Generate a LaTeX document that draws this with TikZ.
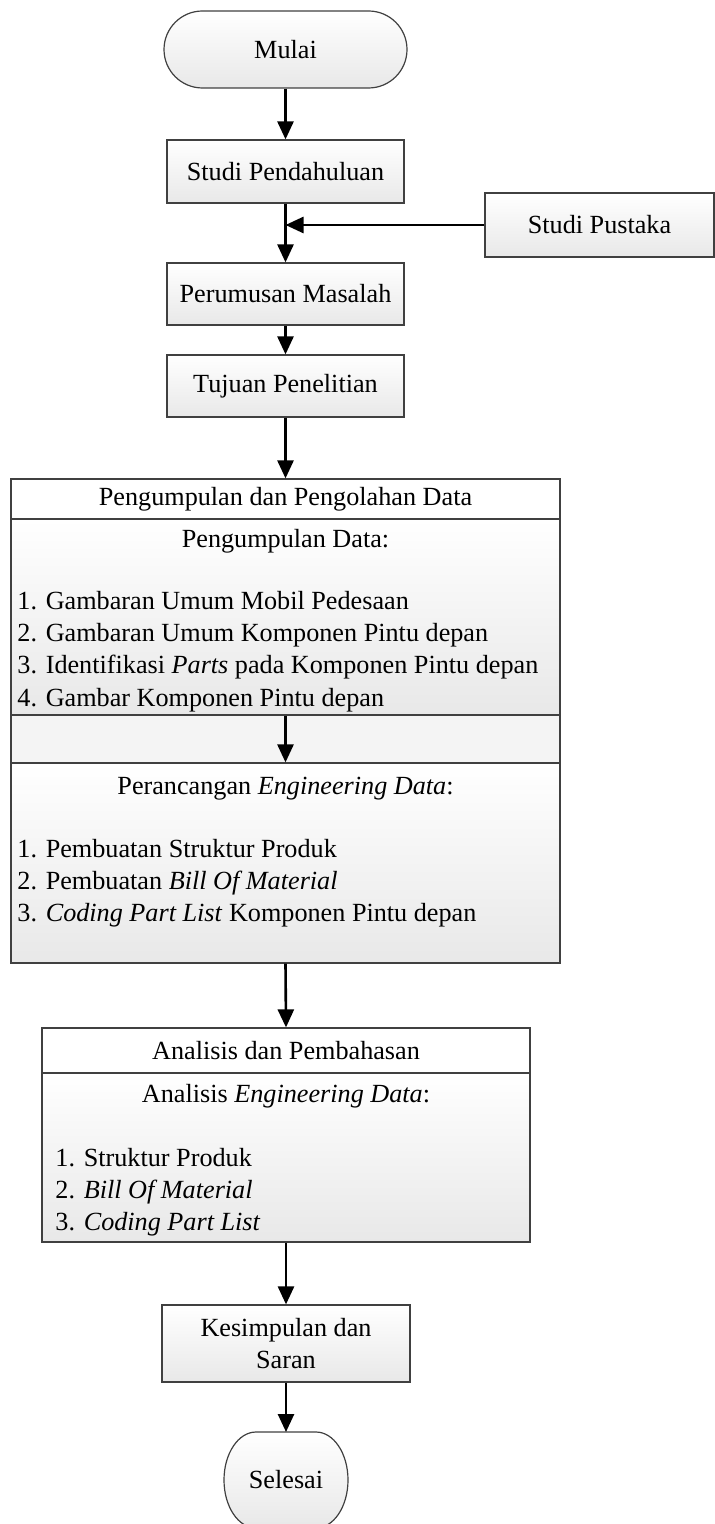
\documentclass[tikz,border=0pt]{standalone}
\usepackage{fontspec}
\setmainfont{Liberation Serif}
\usetikzlibrary{shapes.misc,arrows.meta}
\begin{document}
\begin{tikzpicture}[x=0.5pt,y=-0.5pt,
  txt/.style={font=\fontsize{13.1}{16.1}\selectfont, inner sep=0pt},
  box/.style={txt, draw=black!75, line width=0.6pt, top color=white, bottom color=gray!18, inner sep=0pt, align=center},
  whitebox/.style={txt, draw=black!75, line width=0.6pt, fill=white, inner sep=0pt},
  bandbox/.style={draw=black!75, line width=0.6pt, fill=gray!9, inner sep=0pt},
  arr/.style={line width=1.3pt, -{Triangle[length=9pt,width=8pt]}},
]
\useasboundingbox (0,0) rectangle (715,1524);

% terminals and simple boxes
\node[box, rounded rectangle, minimum width=121.5pt, minimum height=38.5pt] (mulai) at (285.5,49.5) {Mulai};
\node[box, minimum width=118.5pt, minimum height=31.5pt] (studi) at (285.5,171.5) {Studi Pendahuluan};
\node[box, minimum width=114.5pt, minimum height=32pt] (pustaka) at (599.5,225) {Studi Pustaka};
\node[box, minimum width=118.5pt, minimum height=31pt] (rumus) at (285.5,294) {Perumusan Masalah};
\node[box, minimum width=118.5pt, minimum height=31pt] (tujuan) at (285.5,386) {Tujuan Penelitian};

% big box: Pengumpulan dan Pengolahan Data
\node[whitebox, minimum width=274.5pt, minimum height=20pt] (pptitle) at (285.5,499) {Pengumpulan dan Pengolahan Data};
\node[box, minimum width=274.5pt, minimum height=98pt] (secA) at (285.5,617) {};
\node[bandbox, minimum width=274.5pt, minimum height=24pt] (band) at (285.5,739) {};
\node[box, minimum width=274.5pt, minimum height=100pt] (secB) at (285.5,863) {};

\node[txt, anchor=base] (hA) at (285.5,547) {Pengumpulan Data:};
\node[txt, anchor=base west] (a1) at (17,609) {1. Gambaran Umum Mobil Pedesaan};
\node[txt, anchor=base west] (a2) at (17,641) {2. Gambaran Umum Komponen Pintu depan};
\node[txt, anchor=base west] (a3) at (17,673) {3. Identifikasi \textit{Parts} pada Komponen Pintu depan};
\node[txt, anchor=base west] (a4) at (17,706) {4. Gambar Komponen Pintu depan};

\node[txt, anchor=base] (hB) at (285.5,794) {Perancangan \textit{Engineering Data}:};
\node[txt, anchor=base west] (b1) at (17,857) {1. Pembuatan Struktur Produk};
\node[txt, anchor=base west] (b2) at (17,889) {2. Pembuatan \textit{Bill Of Material}};
\node[txt, anchor=base west] (b3) at (17,921) {3. \textit{Coding Part List} Komponen Pintu depan};

% Analisis box
\node[whitebox, minimum width=244pt, minimum height=22.5pt] (antitle) at (286,1050.5) {Analisis dan Pembahasan};
\node[box, minimum width=244pt, minimum height=84.5pt] (anbody) at (286,1157.5) {};
\node[txt, anchor=base] (hC) at (286,1102) {Analisis \textit{Engineering Data}:};
\node[txt, anchor=base west] (c1) at (55,1166) {1. Struktur Produk};
\node[txt, anchor=base west] (c2) at (55,1198) {2. \textit{Bill Of Material}};
\node[txt, anchor=base west] (c3) at (55,1230) {3. \textit{Coding Part List}};

% Kesimpulan
\node[box, minimum width=124pt, minimum height=38.5pt, font=\fontsize{13.1}{16}\selectfont] (kes) at (286,1343.5) {Kesimpulan dan\\Saran};

% Selesai
\path[draw=black!75, line width=0.6pt, top color=white, bottom color=gray!18]
  (256,1432) -- (316,1432) .. controls (333.7,1432) and (348,1453.5) .. (348,1480)
  .. controls (348,1506.5) and (333.7,1528) .. (316,1528) -- (256,1528)
  .. controls (238.3,1528) and (224,1506.5) .. (224,1480)
  .. controls (224,1453.5) and (238.3,1432) .. (256,1432) -- cycle;
\node[txt] (sel) at (286,1480) {Selesai};
\coordinate (seltop) at (286,1432);

% connectors
\draw[arr] (mulai.south) -- (studi.north);
\draw[arr] (studi.south) -- (rumus.north);
\draw[arr] (pustaka.west) -- (pustaka.west -| studi.south);
\draw[arr] (rumus.south) -- (tujuan.north);
\draw[arr] (tujuan.south) -- (pptitle.north);
\draw[arr] (secA.south) -- (secB.north);
\draw[arr] (secB.south) -- (antitle.north);
\draw[arr] (anbody.south) -- (kes.north);
\draw[arr] (kes.south) -- (seltop);
\end{tikzpicture}
\end{document}
